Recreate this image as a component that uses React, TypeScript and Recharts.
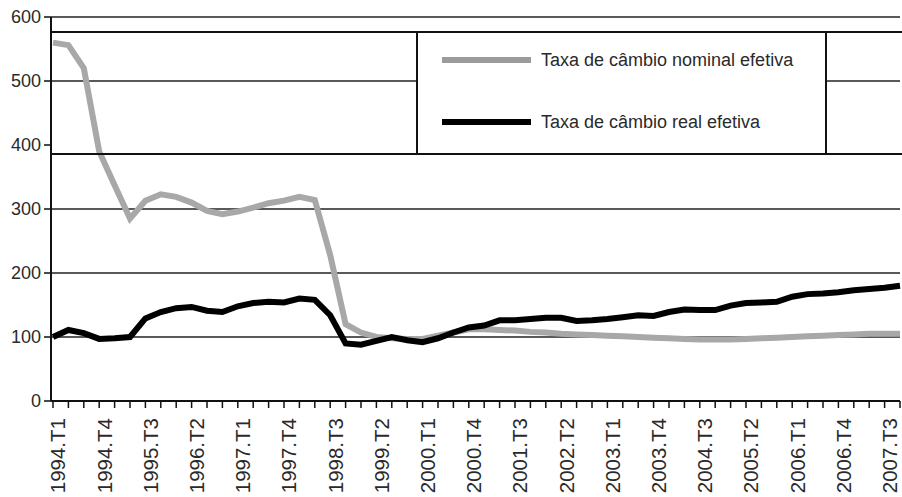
import { LineChart, Line, XAxis, YAxis, ReferenceLine, Legend } from 'recharts';

// quarters 1994.T1 .. 2007.T4
const years = [1994, 1995, 1996, 1997, 1998, 1999, 2000, 2001, 2002, 2003, 2004, 2005, 2006, 2007];
const quarters: string[] = [];
years.forEach((y) => {
  for (let q = 1; q <= 4; q++) quarters.push(`${y}.T${q}`);
});

const nominal = [
  560, 556, 520, 390, 337, 285, 313, 323, 319, 310, 297, 292, 296, 302,
  309, 313, 319, 314, 228, 120, 107, 100, 98, 97, 97, 102, 107, 112,
  112, 111, 110, 108, 107, 105, 104, 103, 102, 101, 100, 99, 98, 97,
  96, 96, 96, 97, 98, 99, 100, 101, 102, 103, 104, 105, 105, 105,
];

const real = [
  100, 111, 106, 97, 98, 100, 129, 139, 145, 147, 141, 139, 148, 153,
  155, 154, 160, 158, 134, 90, 88, 94, 100, 95, 92, 98, 107, 115,
  118, 126, 126, 128, 130, 130, 125, 126, 128, 131, 134, 133, 139, 143,
  142, 142, 149, 153, 154, 155, 163, 167, 168, 170, 173, 175, 177, 180,
];

const yTicks = [0, 100, 200, 300, 400, 500, 600];
const gridValues = [100, 200, 300, 500, 600];

const data = quarters.map((q, i) => ({ quarter: q, nominal: nominal[i], real: real[i] }));

const FONT = '"Liberation Sans", Arial, sans-serif';

const QuarterTick = (props: any) => {
  const { x, y, payload } = props;
  const idx = quarters.indexOf(payload.value);
  if (idx % 3 !== 0) return null;
  const tx = x + 5;
  const ty = y + 8;
  return (
    <text
      x={tx}
      y={ty}
      dy="0.36em"
      textAnchor="end"
      transform={`rotate(-90 ${tx} ${ty})`}
      fontSize={20.5}
      fontFamily={FONT}
      fill="#2a2a2a"
    >
      {payload.value}
    </text>
  );
};

const legendColors: Record<string, string> = { nominal: '#9b9b9d', real: '#000' };

const renderLegend = (props: any) => {
  const { payload } = props;
  return (
    <div style={{ position: 'relative', width: 902, height: 160, fontFamily: FONT }}>
      <div
        style={{
          position: 'absolute',
          left: 51,
          top: 31,
          width: 851,
          height: 124,
          borderTop: '2px solid #111',
          borderBottom: '2px solid #111',
          boxSizing: 'border-box',
        }}
      />
      <div
        style={{
          position: 'absolute',
          left: 416,
          top: 31,
          width: 411,
          height: 124,
          border: '2px solid #111',
          background: '#fff',
          boxSizing: 'border-box',
        }}
      >
        {(payload || []).map((entry: any, i: number) => (
          <div
            key={entry.value}
            style={{
              position: 'absolute',
              left: 24,
              top: i === 0 ? 15 : 77,
              height: 24,
              display: 'flex',
              alignItems: 'center',
              whiteSpace: 'nowrap',
            }}
          >
            <div style={{ width: 89, height: 6, background: legendColors[entry.dataKey] }} />
            <span style={{ marginLeft: 10, fontSize: 18, color: '#2a2a2a' }}>{entry.value}</span>
          </div>
        ))}
      </div>
    </div>
  );
};

export default function App() {
  return (
    <div style={{ position: 'absolute', left: 0, top: 0, background: '#fff' }}>
      <LineChart width={902} height={497} data={data} margin={{ top: 17, right: 2, left: 0, bottom: 0 }}>
        {gridValues.map((v) => (
          <ReferenceLine key={v} y={v} stroke="#222" strokeWidth={1.3} />
        ))}
        <XAxis
          dataKey="quarter"
          interval={0}
          height={96}
          padding={{ left: 2, right: 0 }}
          tick={<QuarterTick />}
          tickSize={7}
          axisLine={{ stroke: '#111', strokeWidth: 2 }}
          tickLine={{ stroke: '#111', strokeWidth: 1.5 }}
        />
        <YAxis
          width={51}
          domain={[0, 600]}
          ticks={yTicks}
          interval={0}
          tickSize={7}
          tickMargin={3}
          axisLine={{ stroke: '#111', strokeWidth: 2 }}
          tickLine={{ stroke: '#111', strokeWidth: 1.5 }}
          tick={{ fontSize: 18, fill: '#2a2a2a', fontFamily: FONT }}
        />
        <Legend
          layout="horizontal"
          verticalAlign="middle"
          align="center"
          content={renderLegend}
          wrapperStyle={{ left: 0, top: 0, width: 902, height: 160 }}
        />
        <Line
          type="linear"
          dataKey="nominal"
          name="Taxa de câmbio nominal efetiva"
          stroke="#a8a8aa"
          strokeWidth={6}
          dot={false}
          isAnimationActive={false}
        />
        <Line
          type="linear"
          dataKey="real"
          name="Taxa de câmbio real efetiva"
          stroke="#000"
          strokeWidth={6}
          dot={false}
          isAnimationActive={false}
        />
      </LineChart>
    </div>
  );
}
